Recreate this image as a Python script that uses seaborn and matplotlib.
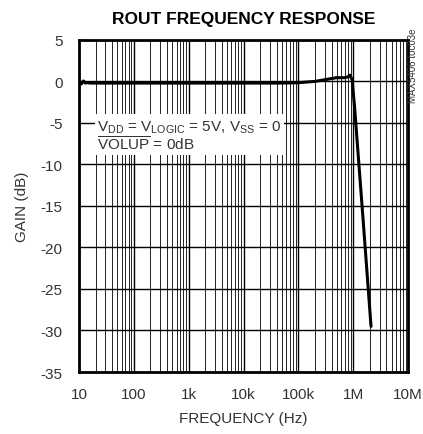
import numpy as np
import pandas as pd
import seaborn as sns
import matplotlib.pyplot as plt
from matplotlib.ticker import FixedLocator, LogLocator, NullFormatter

# frequency response
freq_hz = [10, 11, 12, 13, 14, 16, 20, 50, 100, 1e3, 1e4, 5e4, 1e5, 2e5, 3e5,
           4e5, 5e5, 7e5, 8e5, 8.7e5, 9.5e5, 1.05e6, 1.5e6, 2.1e6]
gain_db = [0.0, -0.3, 0.05, -0.2, -0.15, -0.2, -0.2, -0.2, -0.2, -0.2, -0.2,
           -0.2, -0.15, 0.0, 0.2, 0.35, 0.45, 0.45, 0.55, 0.75, 0.2, -3.0,
           -16.5, -29.5]

x_ticks = [10, 100, 1e3, 1e4, 1e5, 1e6, 1e7]
x_labels = ["10", "100", "1k", "10k", "100k", "1M", "10M"]
y_ticks = [5, 0, -5, -10, -15, -20, -25, -30, -35]

df = pd.DataFrame({"freq": freq_hz, "gain": gain_db})

sns.set_style("white")
plt.rcParams["font.family"] = ["Liberation Sans", "DejaVu Sans"]
plt.rcParams["mathtext.fontset"] = "custom"
plt.rcParams["mathtext.rm"] = "Liberation Sans"

fig = plt.figure(figsize=(4.23, 4.35), dpi=100)
ax = fig.add_axes([0.187, 0.1425, 0.778, 0.7635])

sns.lineplot(data=df, x="freq", y="gain", color="black", linewidth=2.2, ax=ax, zorder=5)

ax.set_xscale("log")
ax.set_xlim(10, 1e7)
ax.set_ylim(-35, 5)
ax.xaxis.set_major_locator(FixedLocator(x_ticks))
ax.set_xticklabels(x_labels)
ax.xaxis.set_minor_locator(LogLocator(base=10, subs=np.arange(2, 10)))
ax.xaxis.set_minor_formatter(NullFormatter())
ax.set_yticks(y_ticks)
ax.set_yticklabels([str(v) for v in y_ticks])

ax.grid(which="major", axis="both", color="black", linewidth=1.0)
ax.grid(which="minor", axis="x", color="#222222", linewidth=0.7)
ax.tick_params(which="both", length=0, labelsize=11, colors="#333333")
ax.tick_params(axis="x", pad=11)
ax.tick_params(axis="y", pad=12)
for s in ax.spines.values():
    s.set_linewidth(2.0)
    s.set_color("black")

ax.set_xlabel("FREQUENCY (Hz)", fontsize=11, color="#333333", labelpad=7)
ax.set_ylabel("GAIN (dB)", fontsize=11, color="#333333", labelpad=8)
ax.set_title("ROUT FREQUENCY RESPONSE", fontsize=12.5, fontweight="bold",
             color="black", pad=12)

ax.text(0.055, 0.765,
        r"V$_{\rm DD}$ = V$_{\rm LOGIC}$ = 5V, V$_{\rm SS}$ = 0" + "\n"
        + r"$\overline{\rm VOLUP}$ = 0dB",
        transform=ax.transAxes, fontsize=11, color="#333333", va="top", ha="left",
        linespacing=1.0, zorder=6,
        bbox=dict(facecolor="white", edgecolor="none", pad=1.5))

fig.text(0.977, 0.935, "MAX5406 toc03e", rotation=90, fontsize=7,
         color="#333333", va="top", ha="center")

fig.savefig("out.png", dpi=100)
